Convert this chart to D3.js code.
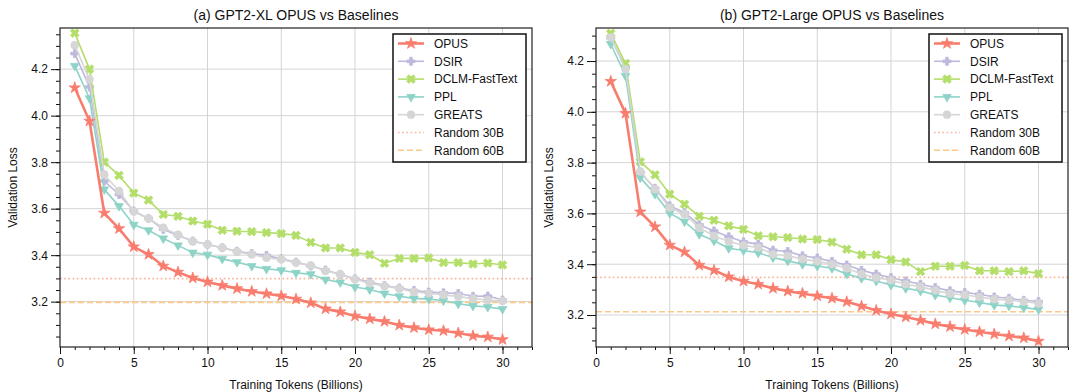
<!DOCTYPE html>
<html><head><meta charset="utf-8">
<script src="https://cdn.jsdelivr.net/npm/d3@7"></script>
<style>
html,body{margin:0;padding:0;background:#fff;}
svg{display:block;font-family:"Liberation Sans",Arial,sans-serif;}
</style></head>
<body><svg id="chart" width="1072" height="392"></svg>
<script>
const tokens = [1,2,3,4,5,6,7,8,9,10,11,12,13,14,15,16,17,18,19,20,21,22,23,24,25,26,27,28,29,30];
const seriesNames = ["OPUS","DSIR","DCLM-FastText","PPL","GREATS"];
const panelTitles = ["(a) GPT2-XL OPUS vs Baselines","(b) GPT2-Large OPUS vs Baselines"];
const xTicks = [0,5,10,15,20,25,30];
const yTicks = [3.2,3.4,3.6,3.8,4.0,4.2];

// (a) GPT2-XL
const xlOPUS   = [4.120,3.977,3.581,3.514,3.436,3.403,3.353,3.327,3.302,3.285,3.270,3.256,3.244,3.234,3.225,3.211,3.195,3.169,3.156,3.138,3.126,3.115,3.099,3.088,3.079,3.075,3.065,3.053,3.048,3.037];
const xlDSIR   = [4.267,4.124,3.719,3.661,3.590,3.558,3.511,3.485,3.461,3.446,3.432,3.417,3.407,3.399,3.384,3.370,3.353,3.336,3.317,3.298,3.284,3.269,3.259,3.248,3.241,3.238,3.235,3.223,3.224,3.207];
const xlDCLM   = [4.355,4.200,3.800,3.743,3.667,3.637,3.575,3.567,3.547,3.533,3.507,3.503,3.501,3.497,3.493,3.485,3.455,3.431,3.431,3.412,3.402,3.365,3.386,3.386,3.388,3.368,3.368,3.362,3.366,3.358];
const xlPPL    = [4.214,4.075,3.683,3.611,3.531,3.507,3.472,3.442,3.411,3.402,3.384,3.370,3.353,3.341,3.335,3.324,3.318,3.295,3.283,3.263,3.252,3.235,3.223,3.214,3.211,3.205,3.191,3.182,3.177,3.168];
const xlGREATS = [4.303,4.156,3.747,3.676,3.588,3.558,3.518,3.488,3.459,3.446,3.432,3.415,3.403,3.389,3.382,3.368,3.356,3.332,3.318,3.296,3.279,3.267,3.256,3.242,3.236,3.229,3.222,3.213,3.207,3.203];
const xlRandom = [3.299,3.197]; // 30B, 60B

// (b) GPT2-Large
const lgOPUS   = [4.120,3.994,3.606,3.547,3.475,3.448,3.396,3.376,3.350,3.333,3.321,3.305,3.294,3.285,3.275,3.266,3.252,3.235,3.218,3.204,3.192,3.179,3.165,3.154,3.143,3.134,3.125,3.117,3.110,3.097];
const lgDSIR   = [4.291,4.175,3.761,3.699,3.630,3.603,3.555,3.531,3.508,3.488,3.479,3.455,3.450,3.433,3.424,3.411,3.397,3.376,3.361,3.347,3.334,3.321,3.308,3.295,3.288,3.282,3.271,3.266,3.258,3.253];
const lgDCLM   = [4.309,4.191,3.803,3.752,3.676,3.636,3.589,3.573,3.551,3.537,3.512,3.508,3.505,3.499,3.497,3.487,3.459,3.437,3.437,3.418,3.409,3.371,3.392,3.392,3.395,3.374,3.374,3.371,3.374,3.363];
const lgPPL    = [4.267,4.142,3.741,3.676,3.601,3.568,3.518,3.492,3.463,3.454,3.445,3.426,3.413,3.400,3.393,3.384,3.361,3.345,3.334,3.318,3.305,3.295,3.279,3.268,3.258,3.249,3.239,3.236,3.229,3.222];
const lgGREATS = [4.293,4.168,3.765,3.695,3.623,3.597,3.544,3.511,3.489,3.474,3.466,3.439,3.433,3.420,3.411,3.400,3.384,3.361,3.347,3.337,3.321,3.311,3.297,3.284,3.279,3.271,3.262,3.258,3.253,3.245];
const lgRandom = [3.348,3.213];

const styles = {
  "OPUS":          {color:"#f87d6e", sym:d3.symbolStar,     size:40, rot:0,   lw:2.6},
  "DSIR":          {color:"#bdb9dc", sym:d3.symbolCross,    size:36, rot:0,   lw:1.6},
  "DCLM-FastText": {color:"#b3de69", sym:d3.symbolCross,    size:46, rot:45,  lw:1.6},
  "PPL":           {color:"#8dd3c7", sym:d3.symbolTriangle, size:32, rot:180, lw:1.6},
  "GREATS":        {color:"#d6d6d6", sym:d3.symbolCircle,   size:48, rot:0,   lw:1.6}
};
const drawOrder = ["DSIR","DCLM-FastText","PPL","GREATS","OPUS"];

const panels = [
  {title:panelTitles[0], left:60,  right:532, top:28, bottom:347, ydom:[3.005,4.377],
   data:{"OPUS":xlOPUS,"DSIR":xlDSIR,"DCLM-FastText":xlDCLM,"PPL":xlPPL,"GREATS":xlGREATS}, rnd:xlRandom},
  {title:panelTitles[1], left:596, right:1068, top:28, bottom:347, ydom:[3.074,4.330],
   data:{"OPUS":lgOPUS,"DSIR":lgDSIR,"DCLM-FastText":lgDCLM,"PPL":lgPPL,"GREATS":lgGREATS}, rnd:lgRandom}
];

const svg = d3.select("#chart");

function symPath(name){ const s = styles[name]; return d3.symbol().type(s.sym).size(s.size)(); }

panels.forEach((p,pi)=>{
  const x = d3.scaleLinear().domain([0,32]).range([p.left,p.right]);
  const y = d3.scaleLinear().domain(p.ydom).range([p.bottom,p.top]);
  const g = svg.append("g");
  const clipId = "clip"+pi;
  svg.append("clipPath").attr("id",clipId).append("rect")
    .attr("x",p.left).attr("y",p.top).attr("width",p.right-p.left).attr("height",p.bottom-p.top);

  // grid
  g.append("g").selectAll("line").data(xTicks.filter(t=>t>0)).join("line")
    .attr("x1",d=>x(d)).attr("x2",d=>x(d)).attr("y1",p.top).attr("y2",p.bottom)
    .attr("stroke","#d4d4d4").attr("stroke-width",1);
  g.append("g").selectAll("line").data(yTicks).join("line")
    .attr("y1",d=>y(d)).attr("y2",d=>y(d)).attr("x1",p.left).attr("x2",p.right)
    .attr("stroke","#d4d4d4").attr("stroke-width",1);

  // random baselines
  const rg = g.append("g").attr("clip-path",`url(#${clipId})`);
  rg.append("line").attr("x1",p.left).attr("x2",p.right).attr("y1",y(p.rnd[0])).attr("y2",y(p.rnd[0]))
    .attr("stroke","#fbb39a").attr("stroke-width",1.6).attr("stroke-dasharray","1.6,2.6");
  rg.append("line").attr("x1",p.left).attr("x2",p.right).attr("y1",y(p.rnd[1])).attr("y2",y(p.rnd[1]))
    .attr("stroke","#fdc98a").attr("stroke-width",1.6).attr("stroke-dasharray","6,3");

  // series
  const line = d3.line().x((d,i)=>x(tokens[i])).y(d=>y(d));
  drawOrder.forEach(name=>{
    const s = styles[name], vals = p.data[name];
    const sg = g.append("g");
    sg.append("path").attr("d",line(vals)).attr("fill","none").attr("stroke",s.color)
      .attr("stroke-width",s.lw).attr("stroke-linejoin","round");
    sg.selectAll("path.m").data(vals).join("path").attr("class","m")
      .attr("d",symPath(name))
      .attr("transform",(d,i)=>`translate(${x(tokens[i])},${y(d)}) rotate(${s.rot})`)
      .attr("fill",s.color).attr("stroke",s.color).attr("stroke-width",0.8);
  });

  // axes
  const xAxis = d3.axisBottom(x).tickValues(xTicks).tickSize(7).tickPadding(4).tickFormat(d3.format("d"));
  const xMinor = d3.axisBottom(x).tickValues(d3.range(0,33,1)).tickSize(3).tickFormat("");
  const yAxis = d3.axisLeft(y).tickValues(yTicks).tickSize(9).tickPadding(3).tickFormat(d3.format(".1f"));
  const yMinor = d3.axisLeft(y).tickValues(d3.range(3.05,4.4,0.05).filter(v=>v>=p.ydom[0]&&v<=p.ydom[1])).tickSize(4).tickFormat("");

  [xMinor,xAxis].forEach(ax=>{
    const a = g.append("g").attr("transform",`translate(0,${p.bottom})`).call(ax);
    a.select(".domain").remove();
    a.selectAll("line").attr("stroke","#111").attr("stroke-width",1);
    a.selectAll("text").attr("font-size",12).attr("fill","#111").attr("font-family","Liberation Sans, Arial, sans-serif");
  });
  [yMinor,yAxis].forEach(ax=>{
    const a = g.append("g").attr("transform",`translate(${p.left},0)`).call(ax);
    a.select(".domain").remove();
    a.selectAll("line").attr("stroke","#111").attr("stroke-width",1);
    a.selectAll("text").attr("font-size",12).attr("fill","#111").attr("font-family","Liberation Sans, Arial, sans-serif");
  });

  // frame
  g.append("rect").attr("x",p.left).attr("y",p.top).attr("width",p.right-p.left).attr("height",p.bottom-p.top)
    .attr("fill","none").attr("stroke","#222").attr("stroke-width",1.2);

  // labels
  g.append("text").attr("x",(p.left+p.right)/2).attr("y",20).attr("text-anchor","middle")
    .attr("font-size",14).attr("fill","#111").text(p.title);
  g.append("text").attr("x",(p.left+p.right)/2).attr("y",389).attr("text-anchor","middle")
    .attr("font-size",12).attr("fill","#111").text("Training Tokens (Billions)");
  g.append("text").attr("transform",`translate(${p.left-43},${(p.top+p.bottom)/2}) rotate(-90)`)
    .attr("text-anchor","middle").attr("font-size",12).attr("fill","#111").text("Validation Loss");

  // legend
  const lx = p.right-139, ly = 34, lw = 133, lh = 128;
  const lg = g.append("g");
  lg.append("rect").attr("x",lx).attr("y",ly).attr("width",lw).attr("height",lh)
    .attr("fill","#fff").attr("stroke","#111").attr("stroke-width",1.5);
  const entries = seriesNames.concat(["Random 30B","Random 60B"]);
  entries.forEach((name,i)=>{
    const cy = ly + 9.5 + i*17.8;
    const x0 = lx+5, x1 = lx+31;
    if (styles[name]) {
      const s = styles[name];
      lg.append("line").attr("x1",x0).attr("x2",x1).attr("y1",cy).attr("y2",cy)
        .attr("stroke",s.color).attr("stroke-width",s.lw);
      lg.append("path").attr("d",symPath(name)).attr("transform",`translate(${(x0+x1)/2},${cy}) rotate(${s.rot})`)
        .attr("fill",s.color).attr("stroke",s.color).attr("stroke-width",0.8);
    } else if (name==="Random 30B") {
      lg.append("line").attr("x1",x0).attr("x2",x1).attr("y1",cy).attr("y2",cy)
        .attr("stroke","#fbb39a").attr("stroke-width",1.6).attr("stroke-dasharray","1.6,2.6");
    } else {
      lg.append("line").attr("x1",x0).attr("x2",x1).attr("y1",cy).attr("y2",cy)
        .attr("stroke","#fdc98a").attr("stroke-width",1.6).attr("stroke-dasharray","6,3");
    }
    lg.append("text").attr("x",lx+41).attr("y",cy+4.3).attr("font-size",12).attr("fill","#111").text(name);
  });
});
</script>
</body></html>
